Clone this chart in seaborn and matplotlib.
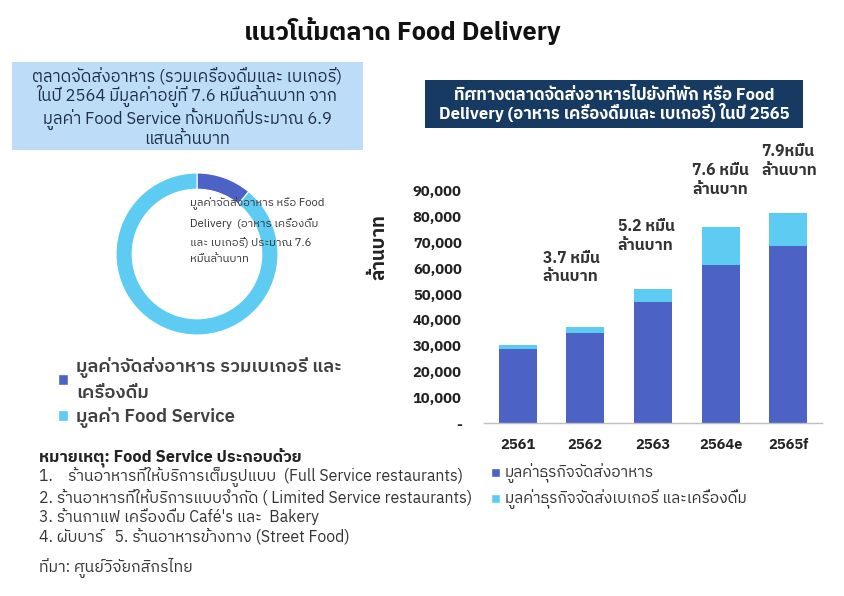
import matplotlib
matplotlib.use("Agg")
import matplotlib.pyplot as plt
from matplotlib.patches import Patch, Rectangle
from matplotlib.ticker import FuncFormatter
import seaborn as sns
import pandas as pd

sns.set_theme(style="white")
plt.rcParams['font.family'] = ['IBM Plex Sans Thai', 'Noto Sans Thai', 'DejaVu Sans']

# ---------------- data ----------------
years = ["2561", "2562", "2563", "2564e", "2565f"]
food_delivery = [28800, 34800, 46900, 61400, 68700]       # มูลค่าธุรกิจจัดส่งอาหาร
bakery_drinks = [1600, 2400, 5200, 14700, 12800]          # มูลค่าธุรกิจจัดส่งเบเกอรี่ และเครื่องดื่ม
bar_notes = ["3.7 หมื่น\nล้านบาท", "5.2 หมื่น\nล้านบาท", "7.6 หมื่น\nล้านบาท", "7.9หมื่น\nล้านบาท"]
note_years = ["2562", "2563", "2564e", "2565f"]
note_y = [60300, 72500, 94300, 101600]
yticks = [0, 10000, 20000, 30000, 40000, 50000, 60000, 70000, 80000, 90000]

donut_labels = ["มูลค่าจัดส่งอาหาร รวมเบเกอรี่ และ\nเครื่องดื่ม", "มูลค่า Food Service"]
delivery_value = 7.6      # หมื่นล้านบาท
food_service_total = 69.0 # หมื่นล้านบาท (6.9 แสนล้านบาท)

# layout-only: horizontal offset of each bar note from its bar's category position
note_dx = [-0.63, -0.52, -0.42, -0.40]

DARK = "#4c62c4"
LIGHT = "#5ecbf2"
NAVY = "#173a63"
BOXBLUE = "#bcdcf8"

W, H = 845, 596
fig = plt.figure(figsize=(W / 100, H / 100), dpi=100)


def fx(x):
    return x / W


def fy(y):
    return 1 - y / H


# ---------------- title ----------------
fig.text(fx(402), fy(31), "แนวโน้มตลาด Food Delivery", ha="center", va="center",
         fontsize=18.3, fontweight="bold", color="#111111")

# ---------------- left info box ----------------
fig.patches.append(Rectangle((fx(12), fy(150)), fx(363) - fx(12), fy(62) - fy(150),
                             transform=fig.transFigure, facecolor=BOXBLUE, edgecolor="none"))
fig.text(fx(187), fy(107),
         "ตลาดจัดส่งอาหาร (รวมเครื่องดื่มและ เบเกอรี่)\n"
         "ในปี 2564 มีมูลค่าอยู่ที่ 7.6 หมื่นล้านบาท จาก\n"
         "มูลค่า Food Service ทั้งหมดที่ประมาณ 6.9\n"
         "แสนล้านบาท",
         ha="center", va="center", fontsize=12, color="#1f2f4a", linespacing=1.05)

# ---------------- right header box ----------------
fig.patches.append(Rectangle((fx(425), fy(128)), fx(803) - fx(425), fy(80) - fy(128),
                             transform=fig.transFigure, facecolor=NAVY, edgecolor="none"))
fig.text(fx(614), fy(105),
         "ทิศทางตลาดจัดส่งอาหารไปยังที่พัก หรือ Food\n"
         "Delivery (อาหาร เครื่องดื่มและ เบเกอรี่) ในปี 2565",
         ha="center", va="center", fontsize=12, color="white", fontweight="bold",
         linespacing=1.0)

# ---------------- donut ----------------
cx, cy, rad = 197, 254, 81
half = rad * 1.05
axd = fig.add_axes([fx(cx - half), fy(cy + half), 2 * half / W, 2 * half / H])
axd.pie([delivery_value, food_service_total - delivery_value], colors=[DARK, LIGHT],
        startangle=90, counterclock=False, radius=1,
        wedgeprops=dict(width=0.2, edgecolor="white", linewidth=0.8))
axd.set_xlim(-1.05, 1.05)
axd.set_ylim(-1.05, 1.05)
axd.set_aspect("equal")
axd.axis("off")
fig.text(fx(190), fy(231),
         "มูลค่าจัดส่งอาหาร หรือ Food\n"
         "Delivery  (อาหาร เครื่องดื่ม\n"
         "และ เบเกอรี่) ประมาณ 7.6\n"
         "หมื่นล้านบาท",
         ha="left", va="center", fontsize=8.2, color="#333333", linespacing=1.85)

leg1 = fig.legend(handles=[Patch(facecolor=DARK), Patch(facecolor=LIGHT)], labels=donut_labels,
                  loc="upper left", bbox_to_anchor=(fx(41), fy(340)), frameon=False,
                  handlelength=0.55, handleheight=0.55, handletextpad=0.45,
                  labelspacing=0.3, labelcolor="#404040",
                  prop={"weight": "semibold", "size": 13.3})
for t in leg1.get_texts():
    t.set_linespacing(1.45)

# ---------------- notes ----------------
fig.text(fx(39), fy(457), "หมายเหตุ: Food Service ประกอบด้วย", ha="left", va="center",
         fontsize=11.8, fontweight="bold", color="#222222")
note_lines = [
    "1.    ร้านอาหารที่ให้บริการเต็มรูปแบบ  (Full Service restaurants)",
    "2. ร้านอาหารที่ให้บริการแบบจำกัด ( Limited Service restaurants)",
    "3. ร้านกาแฟ เครื่องดื่ม Café's และ  Bakery",
    "4. ผับบาร์   5. ร้านอาหารข้างทาง (Street Food)",
]
for i, line in enumerate(note_lines):
    fig.text(fx(39), fy(477 + 20 * i), line, ha="left", va="center",
             fontsize=11.4, color="#333333")
fig.text(fx(39), fy(568), "ที่มา: ศูนย์วิจัยกสิกรไทย", ha="left", va="center",
         fontsize=11.4, color="#333333")

# ---------------- stacked bar chart ----------------
AX_L, AX_R, AX_T, AX_B = 484, 822, 191, 423
ax = fig.add_axes([fx(AX_L), fy(AX_B), (AX_R - AX_L) / W, (AX_B - AX_T) / H])
df = pd.DataFrame({"year": years, "food": food_delivery, "extra": bakery_drinks})
df["total"] = df["food"] + df["extra"]
sns.barplot(data=df, x="year", y="total", color=LIGHT, width=0.56, ax=ax,
            saturation=1, edgecolor="none")
sns.barplot(data=df, x="year", y="food", color=DARK, width=0.56, ax=ax,
            saturation=1, edgecolor="none")
ax.set_xlim(-0.5, 4.5)
ax.set_ylim(0, 90000)
ax.set_yticks(yticks)
ax.yaxis.set_major_formatter(FuncFormatter(lambda v, p: "-" if v == 0 else f"{int(v):,}"))
ax.tick_params(axis="y", length=0, pad=16, labelsize=10.5)
ax.tick_params(axis="x", length=0, pad=11, labelsize=10.5)
for lab in ax.get_yticklabels() + ax.get_xticklabels():
    lab.set_fontweight("bold")
    lab.set_color("#222222")
for s in ["top", "right", "left"]:
    ax.spines[s].set_visible(False)
ax.spines["bottom"].set_color("#bfbfbf")
ax.spines["bottom"].set_linewidth(1.0)
ax.set_xlabel("")
ax.set_ylabel("ล้านบาท", fontsize=13.5, fontweight="bold", color="#222222")
ax.yaxis.set_label_coords((388 - AX_L) / (AX_R - AX_L), (AX_B - 247) / (AX_B - AX_T))

for ny, txt, yv, dx in zip(note_years, bar_notes, note_y, note_dx):
    ax.text(years.index(ny) + dx, yv, txt, ha="left", va="center", fontsize=11.3,
            fontweight="bold", color="#333333", linespacing=1.3, clip_on=False)

leg2 = fig.legend(handles=[Patch(facecolor=DARK), Patch(facecolor=LIGHT)],
                  labels=["มูลค่าธุรกิจจัดส่งอาหาร", "มูลค่าธุรกิจจัดส่งเบเกอรี่ และเครื่องดื่ม"],
                  loc="upper left", bbox_to_anchor=(fx(477), fy(450)), frameon=False,
                  fontsize=11.2, handlelength=0.55, handleheight=0.55, handletextpad=0.35,
                  labelspacing=0.4, labelcolor="#333333")

fig.savefig("out.png", dpi=100)
